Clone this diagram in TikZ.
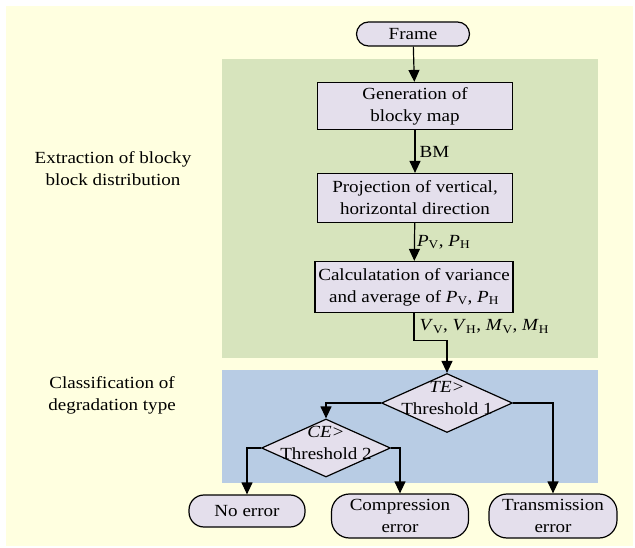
\documentclass[tikz,border=0pt]{standalone}
\usepackage{fontspec}
\setmainfont{Liberation Serif}[FakeStretch=1.12]
\usetikzlibrary{shapes.geometric,arrows.meta}

\definecolor{bgyellow}{RGB}{255,255,224}
\definecolor{stagegreen}{RGB}{215,228,189}
\definecolor{stageblue}{RGB}{184,204,228}
\definecolor{boxlilac}{RGB}{228,223,236}

\newcommand{\varsub}[2]{\textit{#1}\textsubscript{#2}}

\tikzset{
  procbox/.style={draw, line width=1.2pt, fill=boxlilac, align=center, minimum width=195pt, inner sep=1pt},
  pill/.style={draw, line width=1.2pt, fill=boxlilac, rounded corners=#1, align=center, inner sep=1pt},
  decide/.style={draw, line width=1.2pt, fill=boxlilac, diamond, inner sep=0pt},
  flow/.style={line width=1.2pt, -{Triangle[length=12pt,width=11pt]}},
  stagelabel/.style={align=center}
}

\begin{document}
\begin{tikzpicture}[x=1pt, y=-1pt, font=\fontsize{17}{22}\selectfont]
  % Background and stages
  \useasboundingbox (0,0) rectangle (635,548);
  \fill[bgyellow] (6,6) rectangle (633,546);
  \fill[stagegreen] (222,59) rectangle (598,358);
  \fill[stageblue] (222,370) rectangle (598,483);

  \node[stagelabel] (lblextract) at (113,169) {Extraction of blocky\\block distribution};
  \node[stagelabel] (lblclass) at (112,395) {Classification of\\degradation type};

  % Steps
  \node[pill=12pt, minimum width=113pt, minimum height=24pt] (frame) at (413,34) {Frame};
  \node[procbox, minimum height=47pt] (genmap) at (415,106) {Generation of\\blocky map};
  \node[procbox, minimum height=49pt] (proj) at (415,198) {Projection of vertical,\\horizontal direction};
  \node[procbox, minimum width=198pt, minimum height=51pt] (calc) at (414,287)
    {Calculatation of variance\\and average of \varsub{P}{V}, \varsub{P}{H}};

  % Decisions
  \node[decide, minimum width=131pt, minimum height=59pt,
        label={[align=center, yshift=5pt]center:\textit{TE>}\\Threshold 1}] (dec1) at (447,403) {};
  \node[decide, minimum width=129pt, minimum height=58pt,
        label={[align=center, yshift=5pt]center:\textit{CE>}\\Threshold 2}] (dec2) at (326,448) {};

  % Outcomes
  \node[pill=15pt, minimum width=116pt, minimum height=32pt] (noerr) at (247,511) {No error};
  \node[pill=18pt, minimum width=137pt, minimum height=44pt] (comperr) at (400,516) {Compression\\error};
  \node[pill=18pt, minimum width=128pt, minimum height=44pt] (transerr) at (553,516) {Transmission\\error};

  % Connectors
  \draw[flow] (frame) -- (genmap);
  \draw[flow] (genmap) -- (proj) node[midway, right, inner sep=4pt] {BM};
  \draw[flow] (proj) -- (calc) node[midway, right, inner sep=2pt] {\varsub{P}{V}, \varsub{P}{H}};
  \draw[flow] (calc.south) -- ++(0,27) node[midway, right, inner sep=5pt]
    {\varsub{V}{V}, \varsub{V}{H}, \varsub{M}{V}, \varsub{M}{H}} -| (dec1.north);
  \draw[flow] (dec1.west) -| (dec2.north);
  \draw[flow] (dec1.east) -| (transerr.north);
  \draw[flow] (dec2.west) -| (noerr.north);
  \draw[flow] (dec2.east) -| (comperr.north);
\end{tikzpicture}
\end{document}
